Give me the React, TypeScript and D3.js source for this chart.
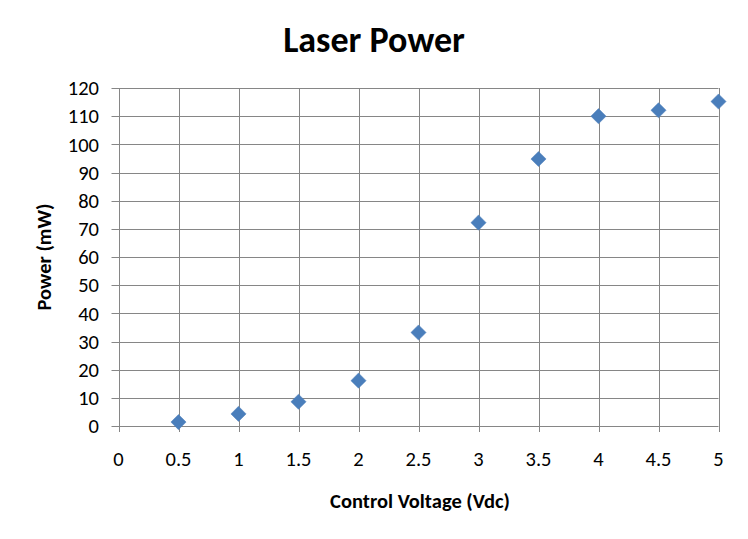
import { useEffect, useRef } from "react"
import * as d3 from "d3"

const voltages = [0.5, 1, 1.5, 2, 2.5, 3, 3.5, 4, 4.5, 5]
const powers = [1.4, 4.3, 8.6, 16.1, 33.2, 72.2, 94.8, 110, 112.1, 115.2]
const xTicks = [0, 0.5, 1, 1.5, 2, 2.5, 3, 3.5, 4, 4.5, 5]
const yTicks = [0, 10, 20, 30, 40, 50, 60, 70, 80, 90, 100, 110, 120]

const FONT = "Carlito, Calibri, Lato, 'Open Sans', sans-serif"

export default function App() {
  const svgRef = useRef<SVGSVGElement>(null)

  useEffect(() => {
    if (!svgRef.current) return
    const svg = d3.select(svgRef.current)
    svg.selectAll("*").remove()

    const width = 748
    const height = 539
    const left = 118.5
    const right = 718.5
    const top = 88
    const bottom = 426

    svg.attr("width", width).attr("height", height)

    const x = d3.scaleLinear().domain([0, 5]).range([left, right])
    const y = d3.scaleLinear().domain([0, 120]).range([bottom, top])
    const grid = "#868686"

    // horizontal gridlines (with tick stubs on the left)
    svg
      .append("g")
      .selectAll("line")
      .data(yTicks)
      .enter()
      .append("line")
      .attr("x1", left - 7)
      .attr("x2", right)
      .attr("y1", (d) => Math.round(y(d)) + 0.5)
      .attr("y2", (d) => Math.round(y(d)) + 0.5)
      .attr("stroke", grid)
      .attr("stroke-width", 1)

    // vertical gridlines (with tick stubs below)
    svg
      .append("g")
      .selectAll("line")
      .data(xTicks)
      .enter()
      .append("line")
      .attr("x1", (d) => Math.round(x(d)) + 0.5)
      .attr("x2", (d) => Math.round(x(d)) + 0.5)
      .attr("y1", top)
      .attr("y2", bottom + 6)
      .attr("stroke", grid)
      .attr("stroke-width", 1)

    // y tick labels
    svg
      .append("g")
      .selectAll("text")
      .data(yTicks)
      .enter()
      .append("text")
      .attr("x", left - 19.5)
      .attr("y", (d) => y(d))
      .attr("dy", "0.35em")
      .attr("text-anchor", "end")
      .style("font-family", FONT)
      .style("font-size", "20.5px")
      .style("fill", "#000")
      .text((d) => d)

    // x tick labels
    svg
      .append("g")
      .selectAll("text")
      .data(xTicks)
      .enter()
      .append("text")
      .attr("x", (d) => x(d))
      .attr("y", bottom + 40)
      .attr("text-anchor", "middle")
      .style("font-family", FONT)
      .style("font-size", "20.5px")
      .style("fill", "#000")
      .text((d) => d)

    // markers: square rotated into a diamond
    const symbol = d3.symbol().type(d3.symbolSquare).size(115)
    svg
      .append("g")
      .selectAll("path")
      .data(voltages)
      .enter()
      .append("path")
      .attr("d", symbol)
      .attr("transform", (d, i) => `translate(${x(d)},${y(powers[i])}) rotate(45)`)
      .attr("fill", "#4a7ebb")
      .attr("stroke", "#4f81bd")
      .attr("stroke-width", 0.5)

    // title
    svg
      .append("text")
      .attr("x", 374)
      .attr("y", 52)
      .attr("text-anchor", "middle")
      .style("font-family", FONT)
      .style("font-size", "36px")
      .style("font-weight", "bold")
      .style("fill", "#000")
      .text("Laser Power")

    // x axis title
    svg
      .append("text")
      .attr("x", 420)
      .attr("y", 508)
      .attr("text-anchor", "middle")
      .style("font-family", FONT)
      .style("font-size", "20.5px")
      .style("font-weight", "bold")
      .style("fill", "#000")
      .text("Control Voltage (Vdc)")

    // y axis title
    svg
      .append("text")
      .attr("transform", `translate(51,${(top + bottom) / 2}) rotate(-90)`)
      .attr("text-anchor", "middle")
      .style("font-family", FONT)
      .style("font-size", "20.5px")
      .style("font-weight", "bold")
      .style("fill", "#000")
      .text("Power (mW)")
  }, [])

  return (
    <div style={{ margin: -8 }}>
      <svg ref={svgRef} style={{ display: "block" }}></svg>
    </div>
  )
}
